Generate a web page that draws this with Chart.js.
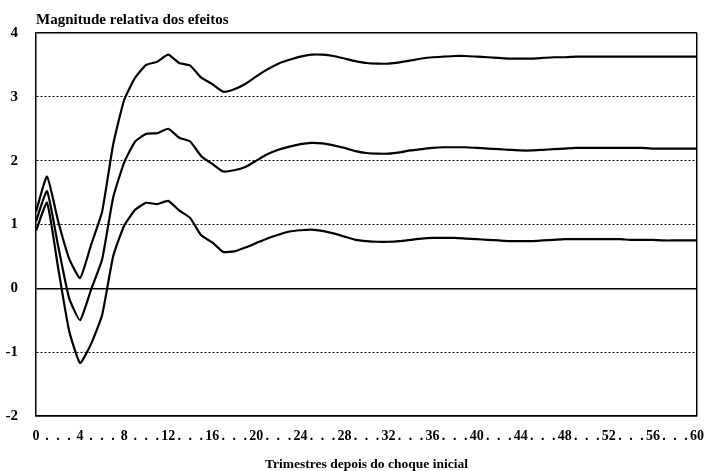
<!DOCTYPE html>
<html>
<head>
<meta charset="utf-8">
<script src="https://cdn.jsdelivr.net/npm/chart.js@4"></script>
<style>
  body { margin: 0; background: #fff; }
  #wrap { width: 708px; height: 471px; }
</style>
</head>
<body>
<div id="wrap"><canvas id="efeitos"></canvas></div>
<script>
// trimestres 0..60, rótulos do eixo como no original (número a cada 4, pontos entre)
const tickLabels = [
  "0", ".", ".", ".", "4", ".", ".", ".", "8", ".", ".", ".", "12", ".", ".", ".",
  "16", ".", ".", ".", "20", ".", ".", ".", "24", ".", ".", ".", "28", ".", ".", ".",
  "32", ".", ".", ".", "36", ".", ".", ".", "40", ".", ".", ".", "44", ".", ".", ".",
  "48", ".", ".", ".", "52", ".", ".", ".", "56", ".", ".", ".", "60"
];

// banda superior
const superior = [
  1.20, 1.75, 1.06, 0.47, 0.16, 0.68, 1.20, 2.25, 2.95, 3.30,
  3.50, 3.55, 3.66, 3.53, 3.49, 3.30, 3.20, 3.08, 3.12, 3.20,
  3.32, 3.43, 3.52, 3.58, 3.63, 3.66, 3.66, 3.64, 3.60, 3.56,
  3.53, 3.52, 3.52, 3.54, 3.57, 3.60, 3.62, 3.63, 3.64, 3.64,
  3.63, 3.62, 3.61, 3.60, 3.60, 3.60, 3.61, 3.62, 3.62, 3.63,
  3.63, 3.63, 3.63, 3.63, 3.63, 3.63, 3.63, 3.63, 3.63, 3.63, 3.63
];

// estimativa central
const central = [
  1.05, 1.52, 0.67, -0.15, -0.50, -0.02, 0.45, 1.42, 1.97, 2.30,
  2.42, 2.43, 2.50, 2.36, 2.30, 2.07, 1.95, 1.83, 1.85, 1.90,
  2.00, 2.10, 2.17, 2.22, 2.26, 2.28, 2.27, 2.24, 2.20, 2.15,
  2.12, 2.11, 2.11, 2.13, 2.16, 2.18, 2.20, 2.21, 2.21, 2.21,
  2.20, 2.19, 2.18, 2.17, 2.16, 2.16, 2.17, 2.18, 2.19, 2.20,
  2.20, 2.20, 2.20, 2.20, 2.20, 2.20, 2.19, 2.19, 2.19, 2.19, 2.19
];

// banda inferior
const inferior = [
  0.90, 1.34, 0.33, -0.66, -1.17, -0.87, -0.42, 0.50, 0.98, 1.23,
  1.34, 1.32, 1.37, 1.22, 1.10, 0.83, 0.72, 0.57, 0.58, 0.64,
  0.71, 0.78, 0.84, 0.89, 0.91, 0.92, 0.90, 0.86, 0.81, 0.76,
  0.74, 0.73, 0.73, 0.74, 0.76, 0.78, 0.79, 0.79, 0.79, 0.78,
  0.77, 0.76, 0.75, 0.74, 0.74, 0.74, 0.75, 0.76, 0.77, 0.77,
  0.77, 0.77, 0.77, 0.77, 0.76, 0.76, 0.76, 0.75, 0.75, 0.75, 0.75
];

const serif = "'Liberation Serif', 'Times New Roman', serif";

// título no canto superior esquerdo da área do gráfico
const tituloTopo = {
  id: "tituloTopo",
  afterDraw(chart) {
    const { ctx, chartArea } = chart;
    ctx.save();
    ctx.font = "bold 15px " + serif;
    ctx.fillStyle = "#000";
    ctx.textBaseline = "alphabetic";
    ctx.fillText("Magnitude relativa dos efeitos", chartArea.left, chartArea.top - 9);
    ctx.restore();
  }
};

function linha(data) {
  return {
    data: data,
    borderColor: "#000",
    borderWidth: 2.2,
    pointRadius: 0,
    tension: 0.15,
    fill: false
  };
}

const efeitos = new Chart("efeitos", {
  type: "line",
  data: {
    labels: tickLabels,
    datasets: [linha(superior), linha(central), linha(inferior)]
  },
  options: {
    responsive: true,
    maintainAspectRatio: false,
    animation: false,
    layout: { padding: { top: 33, right: 0, left: 0, bottom: -2 } },
    plugins: {
      legend: { display: false },
      tooltip: { enabled: false }
    },
    scales: {
      x: {
        afterFit(scale) { scale.paddingRight = 11; },
        ticks: {
          autoSkip: false,
          maxRotation: 0,
          color: "#000",
          font: { family: serif, size: 14, weight: "bold" },
          padding: 12
        },
        grid: {
          drawTicks: false,
          color: (c) => (c.index === tickLabels.length - 1 ? "#000" : "rgba(0,0,0,0)"),
          lineWidth: 1.5
        },
        border: { display: true, color: "#000", width: 1.5 },
        title: {
          display: true,
          text: "Trimestres depois do choque inicial",
          color: "#000",
          font: { family: serif, size: 13.5, weight: "bold" },
          padding: { top: 0, bottom: 0 }
        }
      },
      y: {
        min: -2,
        max: 4,
        afterFit(scale) { scale.width = 36; },
        ticks: {
          stepSize: 1,
          color: "#000",
          font: { family: serif, size: 15, weight: "bold" },
          padding: 18
        },
        grid: {
          drawTicks: false,
          color: "#000",
          lineWidth: (c) => (c.tick && (c.tick.value === 0 || c.tick.value === 4 || c.tick.value === -2) ? 1.5 : 1)
        },
        border: {
          display: true,
          color: "#000",
          width: 1.5,
          dash: (c) => (c.tick && c.tick.value !== 0 && c.tick.value !== 4 && c.tick.value !== -2 ? [2, 2] : [])
        }
      }
    }
  },
  plugins: [tituloTopo]
});
</script>
</body>
</html>
